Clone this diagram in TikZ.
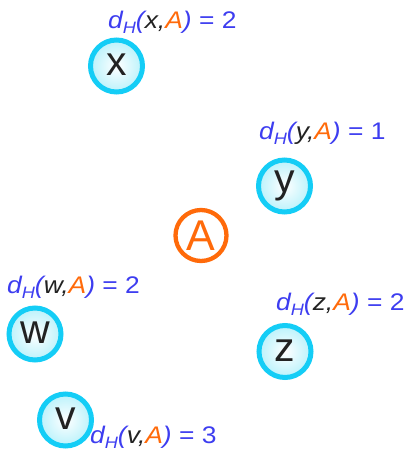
\documentclass[tikz,border=0pt]{standalone}
\usepackage{fontspec}
\setmainfont{Liberation Sans}
\definecolor{lblue}{HTML}{3D3DF0}
\definecolor{aor}{HTML}{FF6A0A}
\definecolor{dark}{HTML}{222222}
\definecolor{ring}{HTML}{14CDF6}
\definecolor{cfill}{HTML}{BAF2FB}
\newcommand\dlab[2]{\scalebox{1.1}[1]{\fontsize{24}{24}\selectfont\itshape
\textcolor{lblue}{d\raisebox{-5.5pt}{\fontsize{16.5}{16.5}\selectfont H}(}\textcolor{dark}{#1,}\textcolor{aor}{A}\textcolor{lblue}{) \upshape= #2}}}
\tikzset{
  vert/.style={circle, draw=ring, line width=5pt, minimum size=52pt, inner sep=0pt,
    inner color=white, outer color=cfill, text=dark, font=\fontsize{41}{41}\selectfont},
  setA/.style={circle, draw=aor, line width=4.3pt, minimum size=51pt, inner sep=0pt,
    text=aor, font=\fontsize{43}{43}\selectfont},
  lab/.style={anchor=base west, inner sep=0pt}
}
\begin{document}
\begin{tikzpicture}[x=1pt,y=-1pt]
\useasboundingbox (0,0) rectangle (406,452);
\node[vert] (x) at (116.5,66) {\raisebox{2pt}{x}};
\node[vert] (y) at (284.5,186) {\raisebox{2pt}{y}};
\node[vert] (w) at (35,334) {\raisebox{2pt}{w}};
\node[vert] (z) at (285,351.5) {\raisebox{2pt}{z}};
\node[vert] (v) at (65.5,420) {\raisebox{2pt}{v}};
\node[setA] (A) at (201,235.5) {A};
\node[lab] (lx) at (108,28.3) {\dlab{x}{2}};
\node[lab] (ly) at (259,139) {\dlab{y}{1}};
\node[lab] (lw) at (7,293) {\dlab{w}{2}};
\node[lab] (lz) at (276,310) {\dlab{z}{2}};
\node[lab] (lv) at (90,443) {\dlab{v}{3}};
\end{tikzpicture}
\end{document}
